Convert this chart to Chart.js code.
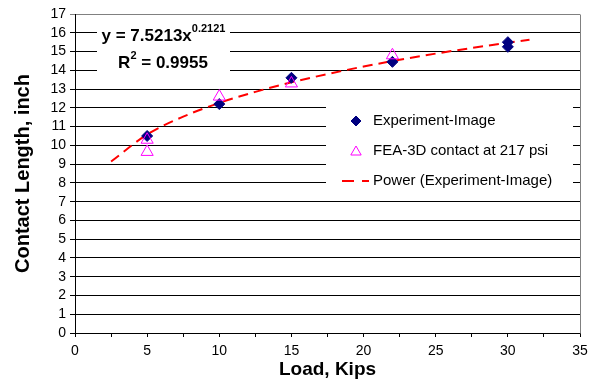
<!DOCTYPE html>
<html>
<head>
<meta charset="utf-8">
<script src="https://cdn.jsdelivr.net/npm/chart.js@4/dist/chart.umd.min.js"></script>
<style>
  html, body { margin: 0; padding: 0; background: #ffffff; }
  #wrap { width: 600px; height: 388px; }
</style>
</head>
<body>
<div id="wrap"><canvas id="c" width="600" height="388"></canvas></div>
<script>
// ---- data ----
const expLoad = [5, 10, 15, 22, 30, 30];
const expLength = [10.5, 12.2, 13.6, 14.45, 15.5, 15.25];
const feaLoad = [5, 5, 10, 15, 22];
const feaLength = [10.3, 9.65, 12.6, 13.3, 14.8];
const trendLoad = [2.5, 5, 7.5, 10, 12.5, 15, 17.5, 20, 22.5, 25, 27.5, 30, 31.5];
const trendLength = [9.14, 10.58, 11.53, 12.26, 12.85, 13.36, 13.80, 14.20, 14.56, 14.89, 15.19, 15.47, 15.63];
const xTickValues = [0, 2.5, 5, 7.5, 10, 12.5, 15, 17.5, 20, 22.5, 25, 27.5, 30, 32.5, 35];
const xTickLabels = ['0', '', '5', '', '10', '', '15', '', '20', '', '25', '', '30', '', '35'];
const yTickValues = [0,1,2,3,4,5,6,7,8,9,10,11,12,13,14,15,16,17];
const seriesNames = ['Experiment-Image', 'FEA-3D contact at 217 psi', 'Power (Experiment-Image)'];
const eqLine1 = ['y = 7.5213x', '0.2121'];
const eqLine2 = ['R', '2', ' = 0.9955'];

const FONT = '"Liberation Sans", Arial, sans-serif';
const NAVY = '#000080';
const MAGENTA = '#FF00FF';
const RED = '#FF0000';

const pts = (xs, ys) => xs.map((x, i) => ({x: x, y: ys[i]}));

const overlayPlugin = {
  id: 'overlay',
  afterDatasetsDraw(chart) {
    const ctx = chart.ctx;
    const a = chart.chartArea;
    ctx.save();
    // plot border (right gray)
    ctx.strokeStyle = '#808080';
    ctx.lineWidth = 1;
    ctx.beginPath();
    ctx.moveTo(Math.round(a.right) + 0.5, Math.round(a.top) + 0.5);
    ctx.lineTo(Math.round(a.right) + 0.5, Math.round(a.bottom) + 0.5);
    ctx.stroke();

    // equation box
    ctx.fillStyle = '#ffffff';
    ctx.fillRect(97, 20, 133, 60);
    ctx.fillStyle = '#000000';
    ctx.textBaseline = 'middle';
    ctx.textAlign = 'left';
    const bigF = 'bold 17px ' + FONT;
    const supF = 'bold 11px ' + FONT;
    // line 1
    ctx.font = bigF;
    const w1a = ctx.measureText(eqLine1[0]).width;
    ctx.font = supF;
    const w1b = ctx.measureText(eqLine1[1]).width;
    let x0 = 163.5 - (w1a + w1b) / 2;
    ctx.font = bigF;
    ctx.fillText(eqLine1[0], x0, 36);
    ctx.font = supF;
    ctx.fillText(eqLine1[1], x0 + w1a, 29);
    // line 2
    ctx.font = bigF;
    const w2a = ctx.measureText(eqLine2[0]).width;
    const w2c = ctx.measureText(eqLine2[2]).width;
    ctx.font = supF;
    const w2b = ctx.measureText(eqLine2[1]).width;
    x0 = 163 - (w2a + w2b + w2c) / 2;
    ctx.font = bigF;
    ctx.fillText(eqLine2[0], x0, 63);
    ctx.font = supF;
    ctx.fillText(eqLine2[1], x0 + w2a, 56);
    ctx.font = bigF;
    ctx.fillText(eqLine2[2], x0 + w2a + w2b, 63);

    // legend box
    ctx.fillStyle = '#ffffff';
    ctx.fillRect(326, 100, 247, 98);
    ctx.font = '15px ' + FONT;
    ctx.fillStyle = '#000000';
    const rows = [121, 151, 181];
    ctx.fillText(seriesNames[0], 373, rows[0]);
    ctx.fillText(seriesNames[1], 373, rows[1]);
    ctx.fillText(seriesNames[2], 373, rows[2]);
    // markers
    ctx.fillStyle = NAVY; ctx.strokeStyle = NAVY;
    Chart.helpers.drawPoint(ctx, {pointStyle: 'rectRot', radius: 5, rotation: 0, borderWidth: 1}, 356, rows[0]);
    ctx.fill();
    ctx.fillStyle = 'rgba(0,0,0,0)'; ctx.strokeStyle = MAGENTA; ctx.lineWidth = 1;
    Chart.helpers.drawPoint(ctx, {pointStyle: 'triangle', radius: 6, rotation: 0, borderWidth: 1}, 356, rows[1] + 1);
    ctx.strokeStyle = RED; ctx.lineWidth = 2;
    ctx.setLineDash([12, 8]);
    ctx.beginPath();
    ctx.moveTo(342, rows[2]); ctx.lineTo(369, rows[2]);
    ctx.stroke();
    ctx.setLineDash([]);
    ctx.restore();
  }
};

new Chart(document.getElementById('c'), {
  type: 'scatter',
  data: {
    datasets: [
      {
        label: seriesNames[1],
        data: pts(feaLoad, feaLength),
        pointStyle: 'triangle',
        pointRadius: 7,
        pointBorderColor: MAGENTA,
        pointBackgroundColor: 'rgba(0,0,0,0)',
        pointBorderWidth: 1,
        order: 0
      },
      {
        label: seriesNames[0],
        data: pts(expLoad, expLength),
        pointStyle: 'rectRot',
        pointRadius: 5.5,
        pointBorderColor: NAVY,
        pointBackgroundColor: NAVY,
        pointBorderWidth: 1,
        order: 1
      },
      {
        label: seriesNames[2],
        data: pts(trendLoad, trendLength),
        showLine: true,
        pointRadius: 0,
        borderColor: RED,
        borderWidth: 2,
        borderDash: [10, 6],
        cubicInterpolationMode: 'monotone',
        order: 2
      }
    ]
  },
  options: {
    responsive: false,
    animation: false,
    events: [],
    layout: { padding: { top: 14, right: 20, left: 0, bottom: 0 } },
    plugins: { legend: { display: false }, tooltip: { enabled: false } },
    scales: {
      x: {
        type: 'linear',
        min: 0, max: 35,
        afterFit(s) { s.height = 55; },
        afterBuildTicks(s) { s.ticks = xTickValues.map(v => ({value: v})); },
        grid: { drawOnChartArea: false, drawTicks: true, tickLength: 4, color: '#000000' },
        border: { display: true, color: '#000000', width: 1 },
        ticks: {
          color: '#000000',
          font: { family: FONT, size: 14 },
          padding: 6,
          maxRotation: 0,
          autoSkip: false,
          callback: (v, i) => xTickLabels[i]
        },
        title: {
          display: true, text: 'Load, Kips', color: '#000000',
          font: { family: FONT, size: 19, weight: 'bold' },
          padding: { top: 4, bottom: 7 }
        }
      },
      y: {
        type: 'linear',
        min: 0, max: 17,
        afterFit(s) { s.width = 75; },
        afterBuildTicks(s) { s.ticks = yTickValues.map(v => ({value: v})); },
        grid: {
          drawTicks: true, tickLength: 5,
          color: (c) => (c.tick && c.tick.value === 17) ? '#808080' : '#000000',
          lineWidth: 1
        },
        border: { display: true, color: '#000000', width: 1 },
        ticks: {
          color: '#000000',
          font: { family: FONT, size: 14 },
          padding: 4,
          autoSkip: false
        },
        title: {
          display: true, text: 'Contact Length, inch', color: '#000000',
          font: { family: FONT, size: 20, weight: 'bold' },
          padding: { top: 11, bottom: 0 }
        }
      }
    }
  },
  plugins: [overlayPlugin]
});
</script>
</body>
</html>
